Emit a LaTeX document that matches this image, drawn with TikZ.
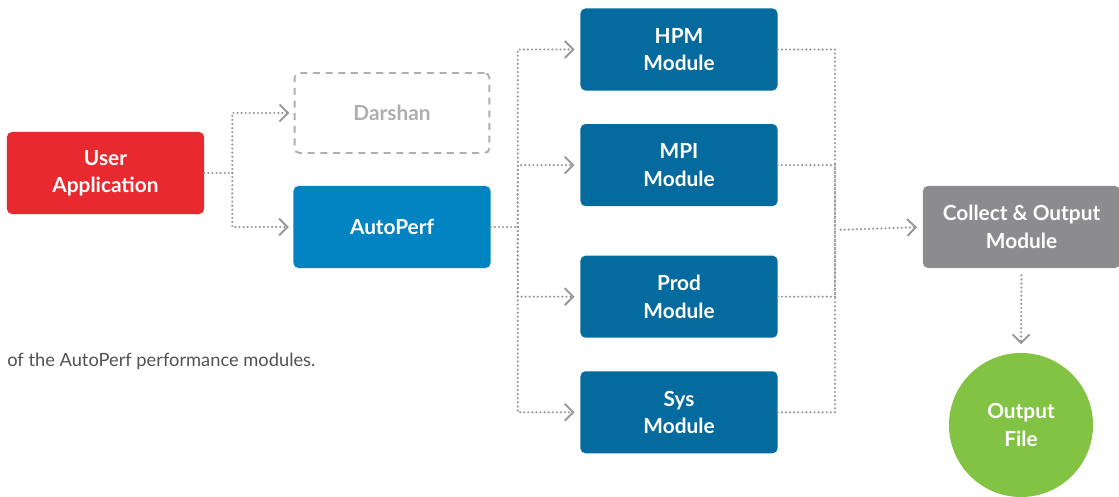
\documentclass[tikz,border=0pt]{standalone}
\usepackage{fontspec}
\setmainfont{Lato}
\usetikzlibrary{positioning, arrows.meta}
\usetikzlibrary{calc}
\definecolor{appred}{HTML}{E8292F}
\definecolor{perfblue}{HTML}{0284C2}
\definecolor{modblue}{HTML}{056A9E}
\definecolor{collgray}{HTML}{8C8C8E}
\definecolor{filegreen}{HTML}{83C343}
\definecolor{dotgray}{HTML}{999999}
\tikzset{
box/.style={rounded corners=3.5pt, minimum width=4.925cm, minimum height=2.05cm, text=white, font=\bfseries\fontsize{14.8}{19.5}\selectfont, align=center}, % every block
dots/.style={draw=dotgray, line width=1.7pt, line cap=round, dash pattern=on 0pt off 2.9pt}, % the dotted wires
tip/.style={-{Straight Barb[length=6pt, width=12pt, line width=1.4pt]}}, % open chevron head
}

\begin{document}
\begin{tikzpicture}[x=0.025cm, y=-0.025cm]
    \useasboundingbox (0,0) rectangle (1119,497);
    \node[box, fill=appred] (user) at (105.5,173) {User\\Application};
    \node[box, draw=collgray!70, dashed, line width=1.4pt, dash pattern=on 5pt off 4pt, text=collgray!70, minimum width=4.87cm, minimum height=2.0cm] (darshan) at (392,113) {Darshan};
    \node[box, fill=perfblue] (autoperf) at (392,227) {AutoPerf};
    \node[box, fill=modblue] (hpm) at (679,49.5) {HPM\\Module};
    \node[box, fill=modblue, below=0.825cm of hpm] (mpi) {MPI\\Module};
    \node[box, fill=modblue, below=1.225cm of mpi] (prod) {Prod\\Module};
    \node[box, fill=modblue, below=0.825cm of prod] (sys) {Sys\\Module};
    \node[box, fill=collgray] (collect) at (1021.5,227) {Collect \& Output\\Module};
    \node[circle, fill=filegreen, minimum size=3.6cm, text=white, font=\bfseries\fontsize{14.8}{19.5}\selectfont, align=center] (file) at (1021,425) {Output\\File};
    \node[anchor=west, text=black!68, font=\fontsize{13}{16}\selectfont, inner sep=0pt] (caption) at (7,361) {of the AutoPerf performance modules.};
    % branch points
    \coordinate (splitA) at ($(user.east)+(28,0)$);
    \coordinate (splitB) at ($(autoperf.east)+(27,0)$);
    \coordinate (merge) at (835,230);
    \draw[dots] (user.east) -- (splitA);
    \draw[dots, tip, shorten >=3pt] (splitA) |- (darshan.west);
    \draw[dots, tip, shorten >=3pt] (splitA) |- (autoperf.west);
    \draw[dots] (autoperf.east) -- (splitB);
    \foreach \m in {hpm, mpi, prod, sys}
        \draw[dots, tip, shorten >=4pt] (splitB) |- (\m.west);
    \foreach \m in {hpm, mpi, prod, sys}
        \draw[dots] (\m.east) -| (merge);
    \draw[dots, tip, shorten <=4pt, shorten >=4pt] (merge) -- (collect.west);
    \draw[dots, tip, shorten <=5pt, shorten >=6pt] (collect.south) -- (file.north);
\end{tikzpicture}
\end{document}
